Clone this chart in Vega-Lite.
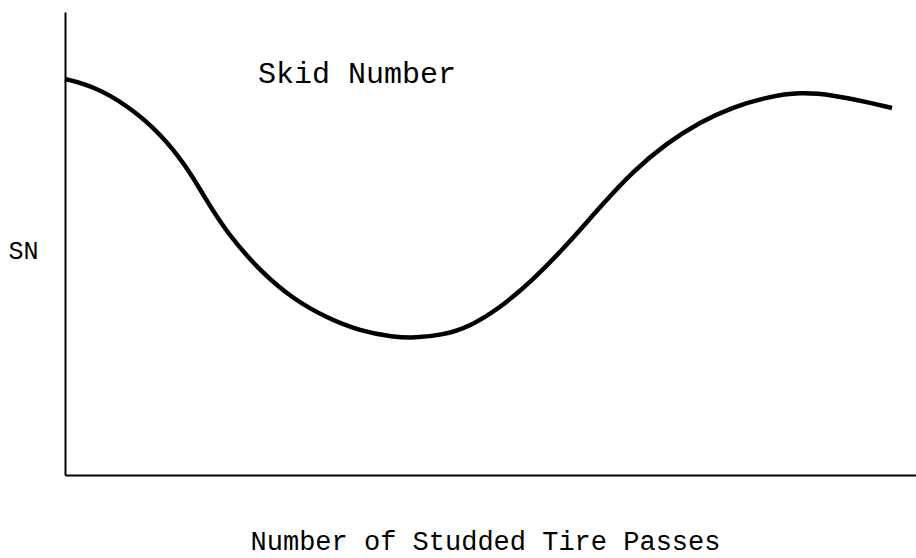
{
  "$schema": "https://vega.github.io/schema/vega-lite/v6.json",
  "autosize": "none",
  "width": 851,
  "height": 463,
  "padding": {"left": 65, "top": 12, "right": 0, "bottom": 83},
  "background": "white",
  "config": {"view": {"stroke": null}, "font": "Liberation Mono"},
  "datasets": {
    "curve": [
      {"passes": 0, "sn": 396}, {"passes": 28, "sn": 389}, {"passes": 62, "sn": 370},
      {"passes": 95, "sn": 342}, {"passes": 122, "sn": 308}, {"passes": 140, "sn": 277},
      {"passes": 162, "sn": 242}, {"passes": 195, "sn": 204}, {"passes": 228, "sn": 176},
      {"passes": 262, "sn": 157}, {"passes": 295, "sn": 144}, {"passes": 328, "sn": 138},
      {"passes": 350, "sn": 137}, {"passes": 378, "sn": 140}, {"passes": 404, "sn": 148},
      {"passes": 435, "sn": 167}, {"passes": 468, "sn": 195}, {"passes": 502, "sn": 230},
      {"passes": 535, "sn": 268}, {"passes": 568, "sn": 304}, {"passes": 602, "sn": 332},
      {"passes": 635, "sn": 353}, {"passes": 668, "sn": 368}, {"passes": 702, "sn": 378},
      {"passes": 735, "sn": 383}, {"passes": 768, "sn": 380}, {"passes": 802, "sn": 373},
      {"passes": 827, "sn": 367}
    ],
    "label": [{"passes": 193, "sn": 392, "text": "Skid Number"}]
  },
  "layer": [
    {
      "data": {"name": "curve"},
      "mark": {"type": "line", "color": "black", "strokeWidth": 4.5, "interpolate": "basis"},
      "encoding": {
        "x": {
          "field": "passes", "type": "quantitative",
          "scale": {"domain": [0, 851], "nice": false, "zero": false},
          "axis": {
            "title": "Number of Studded Tire Passes", "ticks": false, "labels": false, "grid": false,
            "domainColor": "black", "domainWidth": 2,
            "titleFont": "Liberation Mono", "titleFontWeight": "normal", "titleFontSize": 27, "titleColor": "black",
            "titleX": 420, "titleY": 74, "titleAlign": "center", "titleBaseline": "alphabetic"
          }
        },
        "y": {
          "field": "sn", "type": "quantitative",
          "scale": {"domain": [0, 463], "nice": false, "zero": false},
          "axis": {
            "title": "SN", "ticks": false, "labels": false, "grid": false,
            "domainColor": "black", "domainWidth": 2,
            "titleFont": "Liberation Mono", "titleFontWeight": "normal", "titleFontSize": 25, "titleColor": "black",
            "titleAngle": 0, "titleX": -57, "titleY": 238, "titleAlign": "left", "titleBaseline": "middle"
          }
        }
      }
    },
    {
      "data": {"name": "label"},
      "mark": {"type": "text", "align": "left", "baseline": "alphabetic", "font": "Liberation Mono", "fontSize": 30, "color": "black"},
      "encoding": {
        "x": {"field": "passes", "type": "quantitative"},
        "y": {"field": "sn", "type": "quantitative"},
        "text": {"field": "text"}
      }
    }
  ]
}
